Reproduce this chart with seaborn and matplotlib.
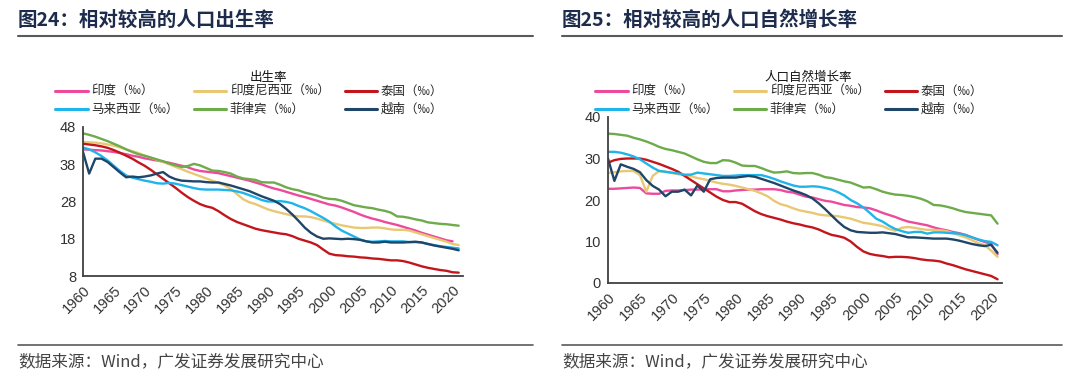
import numpy as np
import pandas as pd
import matplotlib
matplotlib.use("Agg")
import matplotlib.pyplot as plt
import seaborn as sns

years = list(range(1960, 2022))
countries = ["印度（‰）", "印度尼西亚（‰）", "泰国（‰）", "马来西亚（‰）", "菲律宾（‰）", "越南（‰）"]
colors = ["#ee4a9c", "#e9c874", "#c3161c", "#1fb4ea", "#6dab4b", "#1f4568"]

# birth rate (per mille)
br_india = [42.0, 41.9, 41.8, 41.7, 41.5, 41.3, 41.0, 40.7, 40.3, 40.0,
            39.6, 39.3, 39.0, 38.7, 38.4, 38.0, 37.6, 37.2, 36.6, 36.2,
            36.0, 35.8, 35.6, 35.2, 34.8, 34.4, 34.0, 33.6, 33.1, 32.6,
            32.0, 31.5, 31.1, 30.6, 30.1, 29.6, 29.2, 28.7, 28.2, 27.7,
            27.2, 26.9, 26.4, 25.8, 25.2, 24.5, 23.9, 23.4, 23.0, 22.5,
            22.1, 21.7, 21.2, 20.7, 20.2, 19.6, 19.1, 18.6, 18.1, 17.6,
            17.3, np.nan]
br_indonesia = [44.0, 43.9, 43.8, 43.6, 43.3, 43.0, 42.5, 42.0, 41.5, 41.0,
                40.3, 39.8, 39.2, 38.6, 38.0, 37.3, 36.7, 36.0, 35.4, 34.8,
                34.2, 33.6, 33.0, 32.3, 31.4, 30.0, 28.6, 27.8, 27.3, 26.6,
                25.9, 25.4, 25.0, 24.6, 24.2, 24.0, 24.0, 23.8, 23.4, 22.9,
                22.4, 22.0, 21.6, 21.3, 21.0, 20.9, 20.9, 21.0, 21.0, 20.8,
                20.5, 20.4, 20.4, 20.2, 19.7, 19.2, 18.7, 18.2, 17.7, 17.2,
                16.6, 16.3]
br_thailand = [43.5, 43.3, 43.1, 42.8, 42.4, 41.8, 41.1, 40.3, 39.5, 38.5,
               37.6, 36.5, 35.3, 34.1, 32.9, 31.7, 30.4, 29.2, 28.2, 27.3,
               26.7, 26.3, 25.4, 24.3, 23.3, 22.5, 21.9, 21.3, 20.7, 20.3,
               20.0, 19.7, 19.4, 19.2, 18.7, 18.0, 17.5, 17.0, 16.3, 15.1,
               14.0, 13.6, 13.5, 13.3, 13.2, 13.0, 12.9, 12.7, 12.6, 12.4,
               12.2, 12.2, 12.0, 11.6, 11.1, 10.6, 10.2, 9.9, 9.6, 9.4,
               9.0, 8.9]
br_malaysia = [42.5, 42.0, 41.2, 40.2, 39.0, 37.6, 36.2, 35.0, 34.4, 34.0,
               33.6, 33.3, 32.9, 32.8, 33.0, 32.8, 32.4, 32.0, 31.6, 31.3,
               31.2, 31.2, 31.2, 31.1, 31.0, 30.7, 30.3, 29.7, 29.1, 28.4,
               28.0, 28.0, 28.1, 27.9, 27.5, 26.8, 26.2, 25.4, 24.5, 23.6,
               22.6, 21.3, 20.2, 19.4, 18.6, 17.8, 17.3, 17.2, 17.3, 17.4,
               17.3, 17.3, 17.3, 17.1, 17.1, 17.0, 16.6, 16.3, 16.0, 15.8,
               15.6, 15.4]
br_philippines = [46.3, 45.9, 45.4, 44.8, 44.2, 43.5, 42.8, 42.0, 41.3, 40.7,
                  40.3, 39.8, 39.3, 38.8, 38.2, 37.7, 37.3, 37.5, 38.1, 37.7,
                  37.0, 36.3, 36.2, 35.9, 35.5, 34.7, 34.2, 34.0, 33.8, 33.2,
                  33.1, 33.1, 32.5, 31.8, 31.3, 31.0, 30.4, 30.0, 29.6, 29.0,
                  28.7, 28.6, 28.2, 27.6, 27.0, 26.7, 26.4, 26.2, 25.8, 25.5,
                  25.0, 24.0, 23.9, 23.6, 23.2, 22.9, 22.4, 22.2, 22.0, 21.9,
                  21.7, 21.5]
br_vietnam = [41.3, 35.5, 39.5, 39.5, 38.6, 37.2, 35.8, 34.5, 34.7, 34.5,
              34.7, 35.0, 35.5, 35.9, 34.7, 34.0, 33.6, 33.5, 33.4, 33.4,
              33.2, 33.1, 33.1, 32.7, 32.3, 31.8, 31.3, 30.8, 30.1, 29.4,
              28.8, 28.2, 27.3, 26.0, 24.5, 22.8, 21.0, 19.6, 18.6, 18.0,
              18.1, 18.0, 17.9, 18.0, 17.9, 17.7, 17.3, 17.0, 17.0, 17.2,
              17.0, 17.0, 17.0, 17.1, 17.2, 17.0, 16.6, 16.2, 15.9, 15.6,
              15.3, 14.9]

# natural growth rate (per mille)
ng_india = [22.7, 22.7, 22.8, 22.9, 23.0, 22.9, 21.6, 21.5, 21.5, 22.2,
            22.3, 22.3, 22.4, 22.5, 22.5, 22.6, 22.6, 22.6, 22.1, 22.1,
            22.3, 22.4, 22.5, 22.5, 22.6, 22.6, 22.6, 22.4, 22.0, 21.8,
            21.3, 20.8, 20.6, 20.2, 19.8, 19.6, 19.2, 18.8, 18.6, 18.3,
            18.2, 18.0, 17.5, 16.9, 16.4, 15.9, 15.3, 14.8, 14.5, 14.2,
            13.9, 13.4, 13.0, 12.7, 12.3, 12.0, 11.6, 11.0, 10.4, 9.9,
            9.4, 6.9]
ng_indonesia = [26.5, 26.7, 26.9, 27.0, 27.0, 26.0, 22.0, 25.8, 27.0, 26.8,
                26.5, 26.2, 26.0, 25.7, 25.3, 25.0, 24.6, 24.2, 23.9, 23.7,
                23.4, 23.0, 22.6, 22.2, 21.6, 20.9, 19.8, 19.0, 18.6, 18.0,
                17.5, 17.2, 16.9, 16.5, 16.3, 16.2, 16.1, 15.8, 15.5, 15.0,
                14.5, 14.3, 14.0, 13.7, 13.0, 12.6, 13.3, 13.5, 13.3, 13.0,
                12.8, 12.8, 12.7, 12.5, 12.0, 11.5, 11.0, 10.3, 9.6, 9.1,
                7.8, 6.3]
ng_thailand = [29.0, 29.6, 29.9, 30.0, 30.0, 30.0, 29.7, 29.2, 28.7, 28.1,
               27.5, 26.8, 25.8, 24.8, 23.8, 22.8, 21.8, 20.8, 20.0, 19.5,
               19.5, 19.1, 18.2, 17.3, 16.6, 16.1, 15.7, 15.3, 14.8, 14.4,
               14.1, 13.7, 13.4, 12.9, 12.2, 11.6, 11.3, 10.9, 10.0, 8.7,
               7.6, 7.0, 6.7, 6.5, 6.2, 6.3, 6.3, 6.2, 6.0, 5.7,
               5.5, 5.4, 5.2, 4.7, 4.3, 3.8, 3.3, 2.9, 2.5, 2.1,
               1.7, 0.9]
ng_malaysia = [31.6, 31.6, 31.4, 31.0, 30.5, 29.8, 28.8, 27.8, 27.0, 26.8,
               26.6, 26.4, 26.1, 26.1, 26.6, 26.4, 26.2, 26.0, 25.8, 25.8,
               25.9, 26.0, 26.0, 26.0, 26.0, 25.6, 25.1, 24.5, 24.0, 23.5,
               23.2, 23.2, 23.3, 23.2, 22.9, 22.5, 21.9, 21.1, 20.0, 19.2,
               18.2, 16.9, 15.5, 14.8, 13.8, 13.0, 12.5, 12.1, 12.3, 12.3,
               11.9, 12.2, 12.2, 12.1, 12.0, 11.9, 11.5, 11.0, 10.5, 10.1,
               9.9, 9.1]
ng_philippines = [36.0, 35.9, 35.7, 35.5, 35.0, 34.6, 34.1, 33.5, 32.8, 32.3,
                  32.0, 31.6, 31.2, 30.5, 29.8, 29.2, 28.9, 28.9, 29.6, 29.5,
                  29.0, 28.3, 28.2, 28.2, 27.7, 27.1, 26.6, 26.7, 26.9, 26.5,
                  26.4, 26.5, 26.5, 26.1, 25.5, 25.3, 24.9, 24.5, 24.2, 23.6,
                  23.0, 23.1, 22.6, 22.0, 21.6, 21.3, 21.2, 21.0, 20.7, 20.3,
                  19.7, 18.8, 18.7, 18.4, 18.0, 17.5, 17.1, 16.9, 16.7, 16.5,
                  16.3, 14.3]
ng_vietnam = [30.0, 24.6, 28.6, 28.0, 27.5, 26.7, 24.8, 23.4, 22.5, 20.9,
              22.0, 22.0, 22.5, 21.1, 23.5, 22.0, 25.0, 25.3, 25.4, 25.4,
              25.4, 25.6, 25.8, 25.6, 25.1, 24.6, 24.1, 23.5, 22.9, 22.3,
              21.8, 21.2, 20.4, 19.2, 17.8, 16.3, 14.8, 13.5, 12.7, 12.3,
              12.2, 12.1, 12.1, 12.2, 12.0, 11.8, 11.4, 11.0, 11.0, 10.9,
              10.8, 10.7, 10.7, 10.7, 10.5, 10.2, 9.8, 9.4, 9.1, 8.9,
              9.2, 7.3]

x_ticks = list(range(1960, 2021, 5))
br_ticks = [8, 18, 28, 38, 48]
ng_ticks = [0, 10, 20, 30, 40]

cjk = ["Noto Sans CJK SC", "DejaVu Sans"]
sns.set_style("white")
plt.rcParams["font.family"] = ["Liberation Sans", "Noto Sans CJK SC", "DejaVu Sans"]

def long_df(series):
    df = pd.DataFrame(dict(zip(countries, series)))
    df["year"] = years
    return df.melt(id_vars="year", var_name="country", value_name="value")

br = long_df([br_india, br_indonesia, br_thailand, br_malaysia, br_philippines, br_vietnam])
ng = long_df([ng_india, ng_indonesia, ng_thailand, ng_malaysia, ng_philippines, ng_vietnam])
palette = dict(zip(countries, colors))

W, H = 1080, 388
fig = plt.figure(figsize=(W / 100, H / 100), dpi=100)

def box(x0, y0, x1, y1):
    return [x0 / W, 1 - y1 / H, (x1 - x0) / W, (y1 - y0) / H]

ax1 = fig.add_axes(box(83, 127, 463, 276))
ax2 = fig.add_axes(box(608, 117, 1002, 283))

def draw(ax, data, ticks, legend_title, lx):
    sns.lineplot(data=data, x="year", y="value", hue="country", hue_order=countries,
                 palette=palette, linewidth=1.7, ax=ax, legend=False)
    ax.set_xlim(1960, 2021.7)
    ax.set_ylim(ticks[0], ticks[-1])
    ax.set_xticks(x_ticks)
    ax.set_yticks(ticks)
    ax.set_xlabel("")
    ax.set_ylabel("")
    for s in ["top", "right"]:
        ax.spines[s].set_visible(False)
    for s in ["left", "bottom"]:
        ax.spines[s].set_color("#404040")
        ax.spines[s].set_linewidth(1.3)
    ax.tick_params(axis="both", direction="out", length=3, width=1, color="#404040",
                   labelsize=10.5, labelcolor="#333333", pad=2)
    plt.setp(ax.get_xticklabels(), rotation=45, ha="right", rotation_mode="anchor")
    order = [0, 3, 1, 4, 2, 5]
    handles = [plt.Line2D([], [], color=colors[i], linewidth=2.2) for i in order]
    labels = [countries[i] for i in order]
    fig.legend(handles, labels, ncol=3, loc="upper left",
               bbox_to_anchor=(lx / W, 1 - 85 / H), frameon=False,
               prop={"family": cjk, "size": 9}, handlelength=2.6,
               handletextpad=0.3, columnspacing=1.2, labelspacing=0.4,
               borderpad=0, borderaxespad=0)
    fig.text((lx + 213) / W, 1 - 77 / H, legend_title, ha="center", va="center",
             fontsize=9, family=cjk, color="#111111")

draw(ax1, br, br_ticks, "出生率", 55)
draw(ax2, ng, ng_ticks, "人口自然增长率", 595)

# headers and footers
for x0, x1, title in [(18, 533, "图24：相对较高的人口出生率"), (562, 1062, "图25：相对较高的人口自然增长率")]:
    fig.text(x0 / W, 1 - 20 / H, title, ha="left", va="center", fontsize=14,
             fontweight="bold", family=cjk, color="#1d2b4c")
    fig.add_artist(plt.Line2D([x0 / W, x1 / W], [1 - 36 / H] * 2, color="#5a5a5a", linewidth=1.5))
    fig.add_artist(plt.Line2D([x0 / W, x1 / W], [1 - 345 / H] * 2, color="#5a5a5a", linewidth=1.2))
    fig.text(x0 / W, 1 - 362 / H, "数据来源：Wind，广发证券发展研究中心", ha="left", va="center",
             fontsize=12, family=cjk, color="#444444")

fig.savefig("out.png", dpi=100, facecolor="white")
